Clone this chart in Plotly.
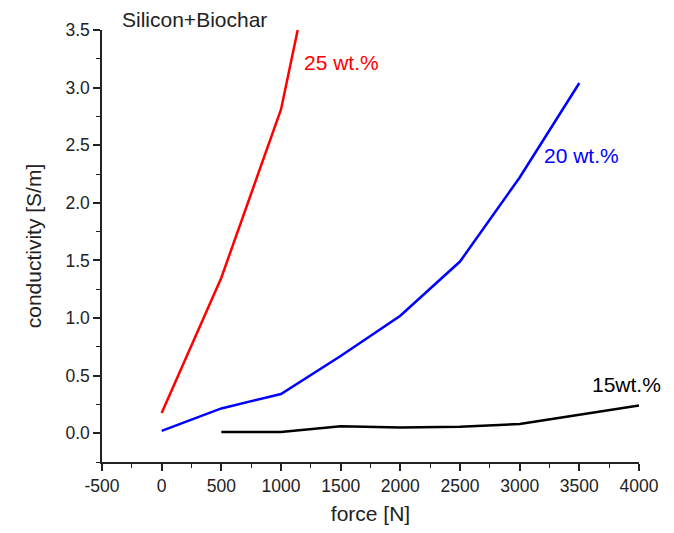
import plotly.graph_objects as go

force_25 = [0, 500, 1000, 1140]
cond_25 = [0.175, 1.35, 2.81, 3.5]

force_20 = [0, 500, 1000, 1500, 2000, 2500, 3000, 3500]
cond_20 = [0.02, 0.215, 0.34, 0.67, 1.02, 1.49, 2.22, 3.04]

force_15 = [500, 1000, 1500, 2000, 2500, 3000, 3500, 4000]
cond_15 = [0.01, 0.01, 0.06, 0.05, 0.055, 0.08, 0.16, 0.24]

labels = ["25 wt.%", "20 wt.%", "15wt.%"]
colors = ["#ff0000", "#0000ff", "#000000"]
label_pos = [(1180, 3.22), (3190, 2.41), (3590, 0.42)]

x_ticks = [-500, 0, 500, 1000, 1500, 2000, 2500, 3000, 3500, 4000]
y_ticks = [0.0, 0.5, 1.0, 1.5, 2.0, 2.5, 3.0, 3.5]

font = "Liberation Sans, Arial, sans-serif"

fig = go.Figure()
for xs, ys, c in zip([force_25, force_20, force_15], [cond_25, cond_20, cond_15], colors):
    fig.add_trace(go.Scatter(x=xs, y=ys, mode="lines", line=dict(color=c, width=2.5), showlegend=False))

for (lx, ly), t, c in zip(label_pos, labels, colors):
    fig.add_annotation(x=lx, y=ly, text=t, showarrow=False, xanchor="left", yanchor="middle",
                       font=dict(family=font, size=21, color=c))

fig.add_annotation(x=0.0335, y=1.0, xref="paper", yref="paper", text="Silicon+Biochar", showarrow=False,
                   xanchor="left", yanchor="bottom", yshift=-3, font=dict(family=font, size=21, color="#222"))

axis_common = dict(showline=True, linecolor="#222", linewidth=1.5, ticks="outside", ticklen=7, tickwidth=1.5,
                   tickcolor="#222", showgrid=False, zeroline=False, mirror=False, automargin=False,
                   tickfont=dict(family=font, size=17.5, color="#222"))

fig.update_xaxes(range=[-500, 4000], tickvals=x_ticks, ticktext=[str(v) for v in x_ticks],
                 minor=dict(dtick=250, ticks="outside", ticklen=4, tickcolor="#222", tickwidth=1.2, showgrid=False),
                 title=dict(text="force [N]", font=dict(family=font, size=21, color="#222"), standoff=14),
                 **axis_common)
fig.update_yaxes(range=[-0.25, 3.5], tickvals=y_ticks, ticktext=[f"{v:.1f}" for v in y_ticks],
                 minor=dict(dtick=0.25, ticks="outside", ticklen=4, tickcolor="#222", tickwidth=1.2, showgrid=False),
                 title=dict(text="conductivity [S/m]", font=dict(family=font, size=21, color="#222"), standoff=18),
                 **axis_common)

fig.update_layout(width=666, height=517, margin=dict(l=94, r=35, t=22, b=63),
                  plot_bgcolor="white", paper_bgcolor="white")

fig.write_html("out.html")
